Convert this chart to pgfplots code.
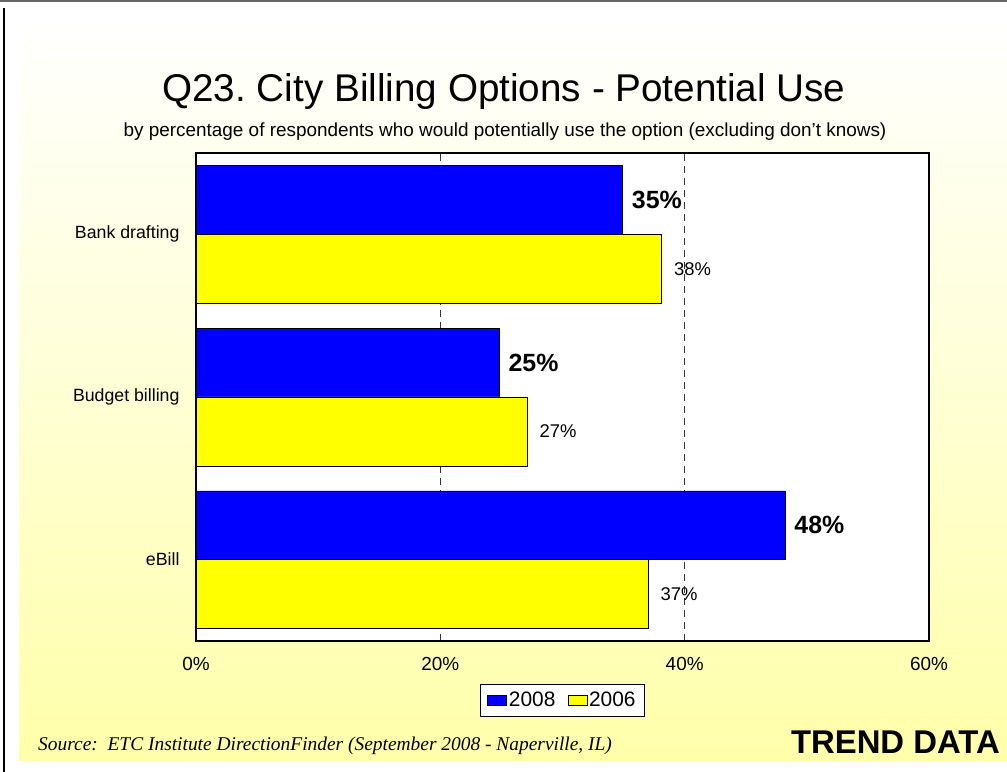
\documentclass[border=0pt]{standalone}
\usepackage{pgfplots}
\pgfplotsset{compat=1.18}
\usepackage{fontspec}
\setmainfont{Liberation Sans}
\newfontfamily\srcfont{Liberation Serif}
\definecolor{bblue}{RGB}{0,0,255}
\definecolor{byellow}{RGB}{255,255,0}
\definecolor{bgyel}{RGB}{255,255,170}
\frenchspacing
\begin{document}
\begin{tikzpicture}[x=1bp,y=1bp]
\useasboundingbox (0,0) rectangle (1007,772);
\fill[white] (0,0) rectangle (1007,772);
\shade[top color=white, bottom color=bgyel] (19,11) rectangle (1007,752);
\draw[black!60, line width=2bp] (0,771) -- (1007,771);
\draw[black, line width=1.5bp] (4,0) -- (4,764);
\node[anchor=base, inner sep=0, font=\fontsize{38.8}{40}\selectfont] at (504,670) {Q23. City Billing Options - Potential Use};
\node[anchor=base, inner sep=0, font=\fontsize{19}{20}\selectfont] at (505,635) {by percentage of respondents who would potentially use the option (excluding don't knows)};
\node[anchor=base west, inner sep=0, font=\srcfont\itshape\fontsize{19.5}{20}\selectfont] at (38,21) {Source:\ \ ETC Institute DirectionFinder (September 2008 - Naperville, IL)};
\node[anchor=base east, inner sep=0, font=\bfseries\fontsize{33}{34}\selectfont] at (1000,18) {TREND DATA};
\begin{axis}[
  at={(196bp,131bp)}, anchor=south west,
  width=733bp, height=488bp, scale only axis,
  xbar, bar width=0.4233,
  xmin=0, xmax=60, ymin=-0.5, ymax=2.5,
  xtick={0,20,40,60}, xticklabels={0\%,20\%,40\%,60\%},
  ytick={0,1,2}, yticklabels={eBill,Budget billing,Bank drafting},
  major tick length=0,
  xticklabel style={font=\fontsize{19}{20}\selectfont, yshift=-13bp},
  yticklabel style={font=\fontsize{17.8}{20}\selectfont, xshift=-13bp},
  xmajorgrids,
  grid style={black!80, line width=0.8bp, dash pattern=on 7bp off 5bp},
  axis line style={line width=1.8bp},
  axis background/.style={fill=white},
  /pgf/number format/assume math mode=true,
  legend style={at={(0.5,-0.0881)}, anchor=north, legend columns=2,
    draw=black, line width=0.8bp, fill=white,
    font=\fontsize{21}{21}\selectfont, inner xsep=7bp, inner ysep=6bp,
    /tikz/every even column/.append style={column sep=10bp}},
  legend image code/.code={\draw[#1, draw=black, line width=0.6bp] (0bp,-5bp) rectangle (19bp,5bp);},
]
\addplot[fill=bblue, draw=black, line width=0.6bp, bar shift=0.21165, point meta=x,
  nodes near coords={\pgfmathprintnumber[fixed,precision=0]{\pgfplotspointmeta}\%},
  nodes near coords style={font=\bfseries\fontsize{25}{25}\selectfont, text=black, anchor=west, xshift=6bp}]
  coordinates {(34.9,2) (24.8,1) (48.2,0)};
\addlegendentry{2008}
\addplot[fill=byellow, draw=black, line width=0.6bp, bar shift=-0.21165, point meta=x,
  nodes near coords={\pgfmathprintnumber[fixed,precision=0]{\pgfplotspointmeta}\%},
  nodes near coords style={font=\fontsize{18.5}{18.5}\selectfont, text=black, anchor=west, xshift=9bp}]
  coordinates {(38.1,2) (27.1,1) (37.0,0)};
\addlegendentry{2006}
\end{axis}
\end{tikzpicture}
\end{document}
